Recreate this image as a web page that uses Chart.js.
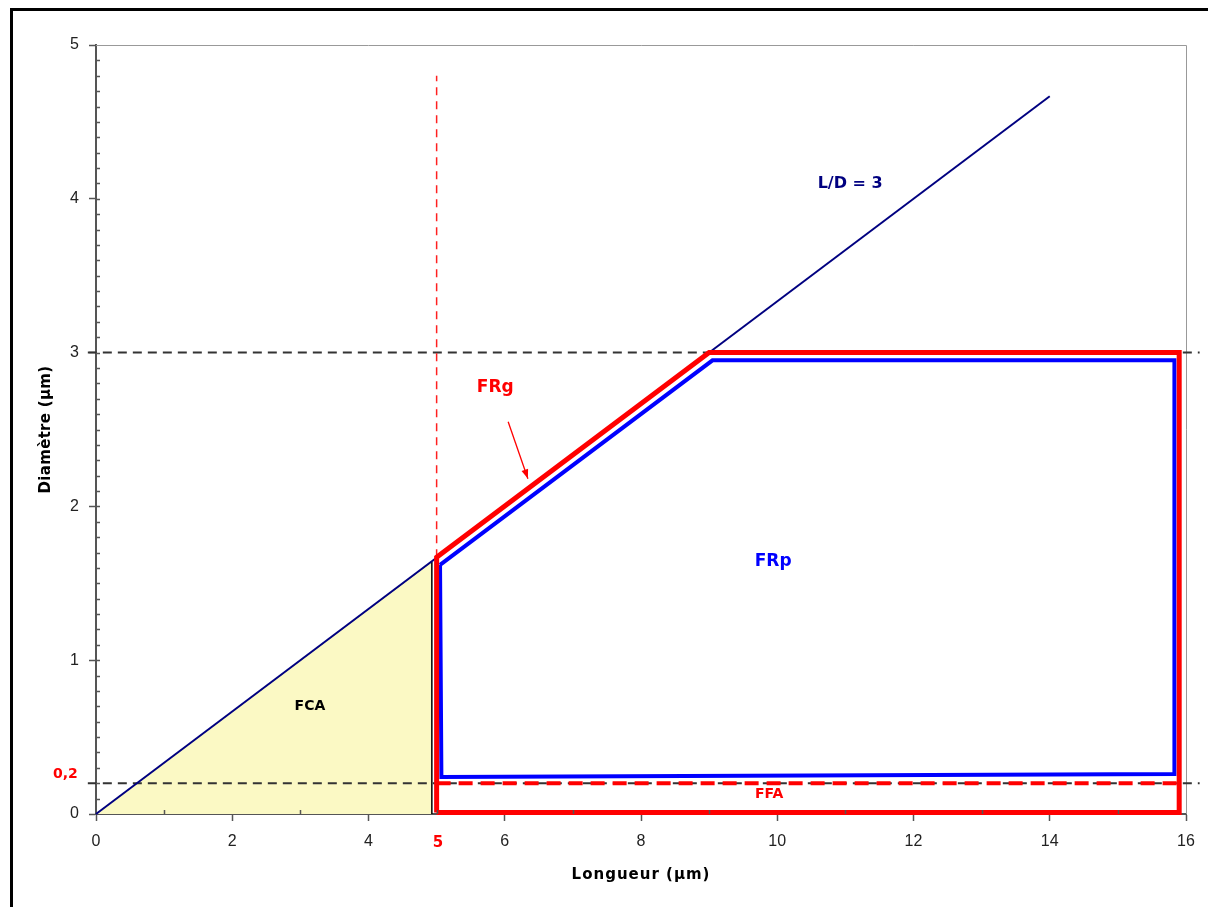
<!DOCTYPE html>
<html>
<head>
<meta charset="utf-8">
<script src="https://cdn.jsdelivr.net/npm/chart.js@4.4.1/dist/chart.umd.min.js"></script>
<style>
body { margin: 0; background: #fff; }
#c { position: absolute; left: 0; top: 0; }
#frame { position: absolute; left: 10px; top: 8px; width: 1198px; height: 899px;
         border-left: 3px solid #000; border-top: 3px solid #000; box-sizing: border-box; pointer-events: none; }
</style>
</head>
<body>
<canvas id="c" width="1208" height="907"></canvas>
<div id="frame"></div>
<script>
// L/D = 3 line
var ldX = [0, 14];
var ldY = [0, 4.667];
// FCA triangle (yellow)
var fcaX = [0, 4.93];
var fcaY = [0, 1.64];
var fcaEdgeX = [4.93, 4.93];
var fcaEdgeY = [1.64, 0];
// FRg outline (red)
var frgX = [5, 5, 9, 15.9, 15.9, 5];
var frgY = [0.01, 1.67, 3, 3, 0.01, 0.01];
// FRp outline (blue)
var frpX = [5.05, 9.05, 15.83, 15.83, 5.07, 5.05];
var frpY = [1.62, 2.95, 2.95, 0.26, 0.24, 1.62];
// FFA limit (red dashed)
var ffaX = [5, 15.9];
var ffaY = [0.2, 0.2];
// L = 5 limit (red dashed)
var limX = [5, 5];
var limY = [1.67, 4.8];
// D = 3 and D = 0.2 limits (black dashed)
var d3X = [-0.12, 16.2];
var d3Y = [3, 3];
var d02X = [-0.12, 16.2];
var d02Y = [0.2, 0.2];
// arrow to FRg
var arrowX = [6.05, 6.34];
var arrowY = [2.55, 2.18];

// text labels
var labelText = ['L/D = 3', 'FRg', 'FRp', 'FCA', 'FFA', '0,2', '5'];
var labelX = [11.07, 5.86, 9.94, 3.14, 9.88, -0.45, 5.02];
var labelY = [4.10, 2.77, 1.64, 0.70, 0.13, 0.255, -0.19];
var labelColor = ['#000080', '#ff0000', '#0000ff', '#000000', '#ff0000', '#ff0000', '#ff0000'];
var labelSize = [16, 17, 17, 14, 14, 14, 15];

var FONT = '"DejaVu Sans", Verdana, sans-serif';

function pts(xs, ys) {
    return xs.map(function (x, i) { return {x: x, y: ys[i]}; });
}

function line(data, color, width, dash, order) {
    return {
        data: data,
        showLine: true,
        borderColor: color,
        backgroundColor: color,
        borderWidth: width,
        borderDash: dash || [],
        pointRadius: 0,
        tension: 0,
        fill: false,
        clip: false,
        order: order,
        borderJoinStyle: 'miter'
    };
}

var datasets = [
    Object.assign(line(pts(fcaX, fcaY), '#8a8a8a', 1, null, 10), {fill: 'origin', backgroundColor: '#fbf9c4'}),
    line(pts(fcaEdgeX, fcaEdgeY), '#000000', 1.5, null, 9),
    line(pts(d3X, d3Y), '#333333', 2, [9, 6], 8),
    line(pts(d02X, d02Y), '#333333', 2, [9, 6], 8),
    line(pts(limX, limY), '#ff2020', 1.5, [8, 6], 7),
    line(pts(ldX, ldY), '#000080', 2, null, 6),
    line(pts(frpX, frpY), '#0000ff', 4, null, 5),
    line(pts(ffaX, ffaY), '#ff0000', 4, [14, 8], 4),
    line(pts(frgX, frgY), '#ff0000', 5, null, 3),
    line(pts(arrowX, arrowY), '#ff0000', 1.3, null, 2)
];

var extras = {
    id: 'extras',
    beforeDatasetsDraw: function (chart) {
        var ctx = chart.ctx, a = chart.chartArea;
        ctx.save();
        ctx.strokeStyle = '#999';
        ctx.lineWidth = 1;
        ctx.beginPath();
        ctx.moveTo(a.left, a.top + 0.5);
        ctx.lineTo(a.right + 0.5, a.top + 0.5);
        ctx.lineTo(a.right + 0.5, a.bottom);
        ctx.stroke();
        ctx.restore();
    },
    afterDraw: function (chart) {
        var ctx = chart.ctx, a = chart.chartArea;
        var xs = chart.scales.x, ys = chart.scales.y;
        ctx.save();
        // minor ticks
        ctx.strokeStyle = '#555';
        ctx.lineWidth = 1.5;
        ctx.beginPath();
        for (var i = 1; i < 16; i += 2) {
            var px = Math.round(xs.getPixelForValue(i)) + 0.5;
            ctx.moveTo(px, a.bottom);
            ctx.lineTo(px, a.bottom - 4);
        }
        for (var j = 1; j < 50; j++) {
            var py = Math.round(ys.getPixelForValue(j / 10)) + 0.5;
            ctx.moveTo(a.left, py);
            ctx.lineTo(a.left + 4, py);
        }
        ctx.stroke();

        // arrow head
        var x1 = xs.getPixelForValue(arrowX[0]), y1 = ys.getPixelForValue(arrowY[0]);
        var x2 = xs.getPixelForValue(arrowX[1]), y2 = ys.getPixelForValue(arrowY[1]);
        var ang = Math.atan2(y2 - y1, x2 - x1);
        ctx.fillStyle = '#ff0000';
        ctx.beginPath();
        ctx.moveTo(x2, y2);
        ctx.lineTo(x2 - 10 * Math.cos(ang - 0.35), y2 - 10 * Math.sin(ang - 0.35));
        ctx.lineTo(x2 - 10 * Math.cos(ang + 0.35), y2 - 10 * Math.sin(ang + 0.35));
        ctx.closePath();
        ctx.fill();

        // labels
        ctx.textAlign = 'center';
        ctx.textBaseline = 'middle';
        ctx.letterSpacing = '0px';
        for (var k = 0; k < labelText.length; k++) {
            ctx.font = 'bold ' + labelSize[k] + 'px ' + FONT;
            ctx.fillStyle = labelColor[k];
            ctx.fillText(labelText[k], xs.getPixelForValue(labelX[k]), ys.getPixelForValue(labelY[k]));
        }

        // axis titles
        ctx.fillStyle = '#000';
        ctx.font = 'bold 15px ' + FONT;
        ctx.letterSpacing = '1px';
        ctx.fillText('Longueur (µm)', (a.left + a.right) / 2, 875);
        ctx.letterSpacing = '0.3px';
        ctx.translate(46, (a.top + a.bottom) / 2);
        ctx.rotate(-Math.PI / 2);
        ctx.fillText('Diamètre (µm)', 0, 0);
        ctx.restore();
    }
};

new Chart(document.getElementById('c'), {
    type: 'scatter',
    data: {datasets: datasets},
    options: {
        responsive: false,
        animation: false,
        devicePixelRatio: 1,
        layout: {padding: {top: 45, right: 22, left: 0, bottom: 0}},
        plugins: {legend: {display: false}, tooltip: {enabled: false}},
        scales: {
            x: {
                type: 'linear', min: 0, max: 16,
                afterFit: function (s) { s.height = 93; },
                ticks: {stepSize: 2, padding: 11, color: '#222',
                        font: {family: '"Liberation Sans", Arial, sans-serif', size: 16}},
                grid: {drawOnChartArea: false, tickLength: 7, tickColor: '#555', tickWidth: 1.5},
                border: {color: '#555', width: 2}
            },
            y: {
                type: 'linear', min: 0, max: 5,
                afterFit: function (s) { s.width = 96; },
                ticks: {stepSize: 1, padding: 10, color: '#222',
                        font: {family: '"Liberation Sans", Arial, sans-serif', size: 16}},
                grid: {drawOnChartArea: false, tickLength: 7, tickColor: '#555', tickWidth: 1.5},
                border: {color: '#555', width: 2}
            }
        }
    },
    plugins: [extras]
});
</script>
</body>
</html>
